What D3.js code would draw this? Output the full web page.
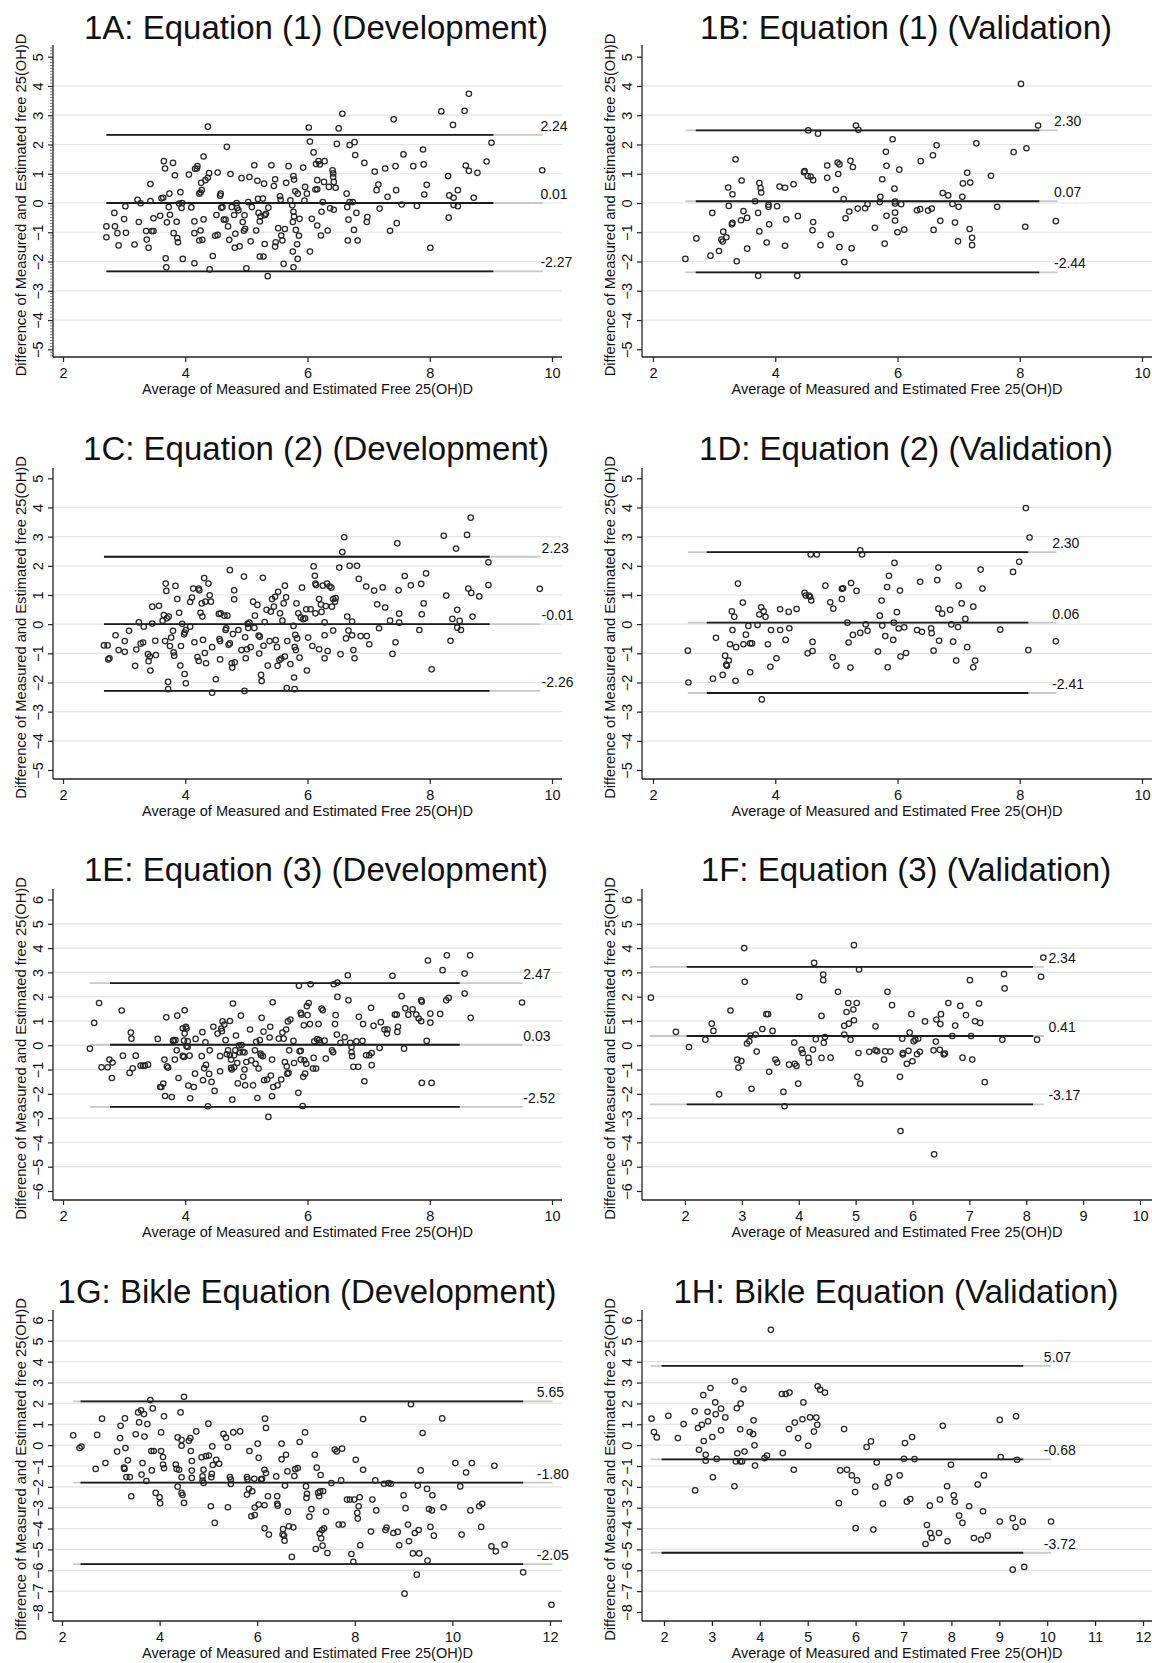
<!DOCTYPE html>
<html>
<head>
<meta charset="utf-8">
<script src="https://cdn.jsdelivr.net/npm/d3@7"></script>
<style>
  html, body { margin: 0; padding: 0; background: #fff; }
  svg { display: block; font-family: "Liberation Sans", Arial, Helvetica, sans-serif; }
</style>
</head>
<body>
<svg id="chart" width="1152" height="1663"></svg>
<script>
// ---- data ----
const panelTitles = [
  '1A: Equation (1) (Development)', '1B: Equation (1) (Validation)',
  '1C: Equation (2) (Development)', '1D: Equation (2) (Validation)',
  '1E: Equation (3) (Development)', '1F: Equation (3) (Validation)',
  '1G: Bikle Equation (Development)', '1H: Bikle Equation (Validation)'
];
const yAxisTitle = 'Difference of Measured and Estimated free 25(OH)D';
const xAxisTitle = 'Average of Measured and Estimated Free 25(OH)D';

const xTicksEven10 = [2, 4, 6, 8, 10];
const xTicksBy1to10 = [2, 3, 4, 5, 6, 7, 8, 9, 10];
const xTicksEven12 = [2, 4, 6, 8, 10, 12];
const xTicksBy1to12 = [2, 3, 4, 5, 6, 7, 8, 9, 10, 11, 12];
const yTicks5 = [-5, -4, -3, -2, -1, 0, 1, 2, 3, 4, 5];
const yTicks6 = [-6, -5, -4, -3, -2, -1, 0, 1, 2, 3, 4, 5, 6];
const yTicks8 = [-8, -7, -6, -5, -4, -3, -2, -1, 0, 1, 2, 3, 4, 5, 6];

// upper limit, mean, lower limit (line positions) per panel
const limitLines = [
  [2.33, 0.0, -2.34], [2.48, 0.06, -2.37],
  [2.31, 0.0, -2.29], [2.47, 0.05, -2.36],
  [2.56, 0.02, -2.54], [3.23, 0.38, -2.43],
  [2.10, -1.80, -5.70], [3.80, -0.68, -5.16]
];
// printed labels beside those lines
const limitText = [
  ['2.24', '0.01', '-2.27'], ['2.30', '0.07', '-2.44'],
  ['2.23', '-0.01', '-2.26'], ['2.30', '0.06', '-2.41'],
  ['2.47', '0.03', '-2.52'], ['2.34', '0.41', '-3.17'],
  ['5.65', '-1.80', '-2.05'], ['5.07', '-0.68', '-3.72']
];
// x extent of the lines: faint start, dark start, dark end, faint end
const lineSpan = [
  [2.71, 2.71, 9.04, 9.85], [2.53, 2.70, 8.32, 8.62],
  [2.67, 2.67, 8.98, 9.81], [2.57, 2.88, 8.14, 8.60],
  [2.44, 2.77, 8.49, 9.52], [1.38, 2.03, 8.12, 8.31],
  [2.23, 2.38, 11.45, 12.05], [1.72, 1.95, 9.50, 10.08]
];
const labelX = [9.81, 8.56, 9.83, 8.53, 9.53, 8.39, 11.73, 9.93];

const pts1A = [[2.71,-0.80],[2.71,-1.17],[2.84,-0.34],[2.85,-0.80],[2.89,-1.03],[2.91,-1.45],[3.00,-0.55],[3.02,-0.11],[3.03,-1.02],[3.17,-1.42],[3.22,0.11],[3.24,-0.65],[3.27,-0.01],[3.36,-0.96],[3.37,-1.25],[3.40,-1.53],[3.43,0.65],[3.43,0.07],[3.45,-0.96],[3.48,-0.96],[3.48,-0.52],[3.59,-0.44],[3.61,0.16],[3.64,0.18],[3.65,1.43],[3.67,1.18],[3.70,-0.66],[3.68,-1.89],[3.69,-2.20],[3.73,-0.14],[3.74,0.32],[3.75,-0.40],[3.80,1.37],[3.81,-1.03],[3.83,0.95],[3.86,-0.64],[3.87,-1.20],[3.88,-1.34],[3.90,-0.02],[3.92,0.37],[3.94,-0.17],[3.95,0.00],[3.96,-1.91],[4.06,0.97],[4.10,-0.15],[4.15,-0.63],[4.15,-1.03],[4.15,-2.06],[4.16,1.17],[4.19,1.18],[4.20,1.26],[4.23,0.32],[4.23,-1.28],[4.25,0.36],[4.25,-0.94],[4.26,0.69],[4.27,0.44],[4.28,-1.26],[4.30,1.59],[4.30,-0.56],[4.33,0.78],[4.37,0.86],[4.37,2.61],[4.39,1.02],[4.40,-2.27],[4.45,-1.81],[4.49,-1.12],[4.51,-0.41],[4.53,-1.09],[4.53,1.04],[4.57,0.25],[4.58,0.32],[4.59,-0.16],[4.61,-0.14],[4.63,-0.57],[4.66,-0.57],[4.68,1.92],[4.70,-0.80],[4.72,-1.26],[4.74,0.99],[4.76,-0.14],[4.80,-0.41],[4.81,-1.53],[4.82,-1.05],[4.84,0.00],[4.85,-0.17],[4.87,-0.25],[4.89,-1.48],[4.92,0.85],[4.94,-0.65],[4.96,-0.95],[4.97,-0.42],[4.98,-0.88],[5.00,-2.23],[5.03,0.03],[5.05,0.89],[5.07,-1.31],[5.09,-0.14],[5.13,1.29],[5.16,-0.94],[5.18,0.76],[5.19,0.14],[5.20,-0.34],[5.22,-0.63],[5.23,-0.46],[5.22,-1.83],[5.28,-1.83],[5.27,0.15],[5.29,0.66],[5.30,-1.40],[5.30,-0.42],[5.32,-0.37],[5.35,-2.50],[5.36,-0.16],[5.41,1.29],[5.45,0.58],[5.47,0.81],[5.47,-1.49],[5.48,-1.34],[5.52,-0.86],[5.55,0.23],[5.56,0.11],[5.57,-1.11],[5.59,-1.28],[5.61,-2.08],[5.63,-0.89],[5.65,0.69],[5.69,1.26],[5.72,0.09],[5.75,-0.08],[5.76,-0.65],[5.76,-1.66],[5.77,-2.20],[5.77,-0.30],[5.77,0.92],[5.78,0.80],[5.78,-0.46],[5.80,0.40],[5.81,-0.92],[5.83,-1.41],[5.84,-1.91],[5.84,0.32],[5.86,-1.12],[5.87,-0.54],[5.93,1.21],[5.95,0.08],[5.96,0.55],[5.99,0.32],[6.02,2.58],[6.04,2.10],[6.04,-1.66],[6.07,-0.54],[6.10,1.73],[6.13,0.46],[6.14,1.33],[6.16,0.47],[6.16,-0.77],[6.16,0.78],[6.18,1.43],[6.20,1.32],[6.22,-1.11],[6.23,-0.30],[6.25,0.03],[6.27,0.72],[6.28,1.43],[6.33,-0.94],[6.35,0.55],[6.37,-0.18],[6.41,1.12],[6.42,1.01],[6.42,0.89],[6.43,0.72],[6.43,-0.23],[6.46,0.52],[6.48,2.02],[6.51,2.55],[6.57,3.05],[6.64,0.32],[6.65,-0.14],[6.66,-1.28],[6.67,-0.57],[6.69,1.98],[6.69,0.03],[6.74,0.03],[6.76,-0.92],[6.77,2.08],[6.78,1.64],[6.80,-0.34],[6.82,-1.28],[6.93,1.37],[6.97,-0.65],[6.98,-0.48],[7.10,1.07],[7.13,0.44],[7.16,0.63],[7.18,-0.19],[7.27,1.18],[7.31,0.21],[7.35,-0.95],[7.41,2.86],[7.44,1.26],[7.45,0.44],[7.46,-0.69],[7.54,-0.05],[7.57,1.66],[7.73,1.26],[7.79,-0.10],[7.89,1.83],[7.90,1.32],[7.91,0.29],[7.95,0.62],[8.01,-1.53],[8.19,3.13],[8.30,0.92],[8.31,-0.50],[8.32,0.26],[8.38,2.67],[8.39,-0.07],[8.39,0.18],[8.46,0.44],[8.46,-0.11],[8.57,3.15],[8.59,1.28],[8.64,1.10],[8.64,3.73],[8.72,0.18],[8.78,1.03],[8.93,1.42],[9.01,2.06],[9.84,1.12]];

const pts1B = [[2.53,-1.91],[2.71,-1.21],[2.94,-1.80],[2.97,-0.34],[3.08,-1.64],[3.12,-1.25],[3.14,-1.32],[3.15,-0.98],[3.20,-1.17],[3.23,0.53],[3.24,-0.10],[3.29,-0.73],[3.30,-0.68],[3.30,0.30],[3.35,1.49],[3.37,-1.99],[3.44,-0.59],[3.45,0.77],[3.48,-0.28],[3.54,-0.51],[3.54,-1.56],[3.67,0.06],[3.72,-0.34],[3.72,-2.49],[3.74,0.68],[3.74,-0.97],[3.76,0.51],[3.77,0.36],[3.86,-1.35],[3.89,-0.06],[3.89,-0.13],[3.90,-0.73],[4.03,-0.11],[4.07,0.56],[4.16,0.52],[4.16,-1.46],[4.18,-0.56],[4.30,0.64],[4.37,-0.45],[4.36,-2.49],[4.47,1.05],[4.48,1.09],[4.53,0.92],[4.54,2.48],[4.58,0.90],[4.61,-0.93],[4.62,0.78],[4.62,-0.65],[4.70,2.37],[4.74,-1.44],[4.85,0.86],[4.85,1.28],[4.91,-1.08],[4.99,0.45],[5.02,1.38],[5.03,0.99],[5.05,-1.51],[5.05,1.32],[5.12,0.13],[5.13,-2.02],[5.15,-0.52],[5.21,-0.29],[5.23,1.44],[5.25,-1.55],[5.27,1.23],[5.32,2.65],[5.35,-0.19],[5.36,2.50],[5.47,-0.18],[5.51,-0.04],[5.63,-0.85],[5.71,0.03],[5.72,0.21],[5.75,0.81],[5.79,-1.39],[5.81,1.75],[5.82,1.27],[5.82,-0.44],[5.92,2.18],[5.95,0.49],[5.96,0.05],[5.96,-0.60],[5.96,-0.33],[5.96,-0.02],[6.00,-1.00],[6.03,1.14],[6.06,-0.04],[6.11,-0.91],[6.32,-0.25],[6.37,-0.21],[6.38,1.43],[6.50,-0.26],[6.56,-0.19],[6.58,1.63],[6.59,-0.92],[6.64,1.97],[6.70,-0.61],[6.74,0.34],[6.83,0.26],[6.90,-0.03],[6.94,-0.67],[6.99,-1.31],[7.00,-0.13],[7.06,0.21],[7.07,0.67],[7.14,1.03],[7.18,-0.89],[7.19,0.70],[7.22,-1.19],[7.22,-1.44],[7.29,2.04],[7.53,0.93],[7.63,-0.13],[7.90,1.74],[8.02,4.07],[8.09,-0.81],[8.11,1.87],[8.30,2.65],[8.59,-0.62]];

const pts1C = [[2.67,-0.73],[2.73,-0.73],[2.74,-1.21],[2.76,-1.17],[2.86,-0.38],[2.91,-0.89],[3.01,-0.95],[3.01,-0.58],[3.08,-0.23],[3.18,-1.43],[3.20,-0.87],[3.24,0.06],[3.27,-0.67],[3.31,-0.63],[3.32,-0.09],[3.39,-1.03],[3.40,-1.27],[3.42,-1.11],[3.43,-1.59],[3.46,0.60],[3.46,0.02],[3.51,-0.57],[3.52,-1.06],[3.57,0.63],[3.63,0.12],[3.65,0.31],[3.67,-0.58],[3.68,1.39],[3.69,1.14],[3.70,0.20],[3.72,-1.98],[3.72,-2.23],[3.73,0.26],[3.75,-0.75],[3.77,-0.46],[3.80,-0.23],[3.81,-0.97],[3.82,-1.08],[3.84,1.31],[3.87,0.86],[3.90,0.39],[3.92,-1.42],[3.93,-0.75],[3.95,0.01],[3.98,-0.35],[3.99,-0.29],[3.99,-1.71],[4.01,-2.03],[4.01,-0.20],[4.08,-0.09],[4.08,0.76],[4.11,0.91],[4.13,1.22],[4.15,-0.62],[4.20,-1.13],[4.22,-1.26],[4.22,1.22],[4.23,1.16],[4.25,0.39],[4.27,0.71],[4.28,0.26],[4.29,-0.54],[4.31,1.58],[4.32,-0.99],[4.33,0.77],[4.34,-1.34],[4.38,1.39],[4.40,0.99],[4.42,0.77],[4.44,-0.79],[4.44,-2.35],[4.50,-1.89],[4.55,0.35],[4.56,-0.51],[4.57,-1.21],[4.57,-0.58],[4.58,0.37],[4.64,0.29],[4.66,-0.20],[4.67,-0.14],[4.69,0.29],[4.71,-0.71],[4.73,1.85],[4.73,-0.66],[4.76,-1.34],[4.77,-1.49],[4.78,-0.34],[4.80,1.16],[4.80,0.85],[4.81,-1.31],[4.87,-0.20],[4.92,-0.89],[4.96,1.63],[4.97,-2.29],[4.98,-0.45],[4.99,-1.17],[5.01,-0.86],[5.02,0.01],[5.03,-0.13],[5.05,0.05],[5.07,-0.79],[5.11,0.77],[5.13,-0.13],[5.14,0.29],[5.18,0.66],[5.20,-0.39],[5.21,-1.01],[5.22,-0.43],[5.24,-1.74],[5.25,-1.95],[5.27,1.59],[5.28,-0.74],[5.30,0.07],[5.33,0.49],[5.35,-1.42],[5.38,-0.58],[5.40,0.43],[5.42,0.86],[5.45,0.60],[5.47,0.94],[5.48,-0.55],[5.50,-0.79],[5.51,-1.43],[5.52,1.11],[5.54,-1.23],[5.55,0.37],[5.57,-1.18],[5.59,0.12],[5.61,0.71],[5.63,1.32],[5.63,-1.11],[5.65,0.92],[5.66,-2.19],[5.67,-0.58],[5.72,-1.37],[5.77,-0.06],[5.78,-1.83],[5.79,-2.23],[5.79,-0.79],[5.80,-0.37],[5.81,-0.89],[5.82,0.71],[5.83,-0.49],[5.85,0.37],[5.87,-1.15],[5.89,0.23],[5.91,1.25],[5.93,0.17],[5.96,0.20],[5.98,0.51],[5.99,-1.59],[6.01,-0.46],[6.05,0.51],[6.08,-0.75],[6.10,1.98],[6.12,1.66],[6.13,0.37],[6.13,1.39],[6.14,1.34],[6.19,-0.86],[6.19,0.86],[6.22,0.67],[6.23,0.42],[6.25,1.32],[6.28,-0.38],[6.28,-1.17],[6.28,0.06],[6.30,0.62],[6.32,1.39],[6.33,-0.92],[6.36,1.30],[6.39,1.25],[6.40,0.60],[6.42,0.86],[6.42,-0.22],[6.45,0.77],[6.46,0.89],[6.52,1.94],[6.54,-1.03],[6.57,2.47],[6.60,2.98],[6.63,-0.49],[6.65,0.26],[6.67,-0.22],[6.69,2.00],[6.73,-0.38],[6.73,0.09],[6.75,-0.89],[6.77,-1.17],[6.81,2.00],[6.84,1.55],[6.87,-0.41],[6.96,1.29],[6.97,-0.41],[7.01,-0.69],[7.09,1.15],[7.14,0.68],[7.17,-0.14],[7.23,1.26],[7.27,0.57],[7.35,0.12],[7.39,-1.02],[7.44,-0.62],[7.47,2.77],[7.49,1.16],[7.50,0.36],[7.50,0.05],[7.59,1.65],[7.69,1.33],[7.83,-0.20],[7.86,1.38],[7.87,0.34],[7.90,0.71],[7.94,1.74],[8.03,-1.55],[8.23,3.03],[8.27,0.98],[8.34,-0.57],[8.37,0.18],[8.43,2.59],[8.61,3.06],[8.67,3.65],[8.45,0.49],[8.45,-0.12],[8.49,0.11],[8.51,-0.20],[8.63,1.22],[8.68,1.07],[8.70,0.26],[8.81,0.95],[8.96,2.12],[8.96,1.34],[9.80,1.21]];

const pts1D = [[2.57,-0.91],[2.58,-2.00],[2.98,-1.87],[3.03,-0.47],[3.14,-1.74],[3.18,-1.08],[3.20,-1.39],[3.21,-1.43],[3.24,-1.25],[3.26,-0.69],[3.29,0.44],[3.30,-0.20],[3.33,0.25],[3.35,-1.94],[3.36,-0.79],[3.39,1.39],[3.47,0.74],[3.48,-0.69],[3.52,-0.36],[3.56,-0.06],[3.59,-1.65],[3.59,-0.66],[3.62,-0.66],[3.71,-0.03],[3.74,0.33],[3.77,0.58],[3.78,-2.58],[3.81,0.44],[3.84,0.25],[3.88,-0.69],[3.92,-1.46],[3.93,-0.20],[4.02,-1.17],[4.08,-0.20],[4.08,0.51],[4.17,-0.54],[4.22,0.42],[4.23,-0.14],[4.35,0.52],[4.48,1.07],[4.50,0.98],[4.53,-1.00],[4.55,0.98],[4.57,0.94],[4.58,2.39],[4.59,0.81],[4.61,-0.61],[4.61,-0.92],[4.68,2.39],[4.82,1.32],[4.90,0.75],[4.94,-1.14],[4.95,0.53],[5.00,-1.43],[5.09,0.86],[5.09,1.21],[5.11,1.23],[5.18,0.05],[5.20,-0.63],[5.23,-1.49],[5.24,1.41],[5.27,-0.37],[5.33,1.14],[5.39,2.53],[5.39,-0.30],[5.42,2.39],[5.48,-0.01],[5.51,-0.23],[5.68,-0.94],[5.71,0.29],[5.74,0.81],[5.75,-0.05],[5.80,-0.41],[5.83,1.27],[5.84,-1.48],[5.86,1.66],[5.93,-0.54],[5.94,0.05],[5.95,2.10],[5.99,0.41],[6.02,-0.15],[6.04,1.15],[6.05,-1.11],[6.11,-0.11],[6.14,-0.99],[6.32,-0.20],[6.40,-0.26],[6.37,1.45],[6.55,-0.14],[6.56,-0.31],[6.59,-0.91],[6.65,1.51],[6.67,1.94],[6.67,0.53],[6.68,-0.57],[6.73,0.36],[6.86,0.49],[6.88,-0.01],[6.91,-0.60],[6.96,-1.25],[6.99,-0.10],[7.00,1.32],[7.05,0.71],[7.11,0.18],[7.14,-0.79],[7.24,-1.48],[7.27,-1.25],[7.24,0.60],[7.36,1.87],[7.39,1.22],[7.68,-0.19],[7.89,1.79],[7.99,2.14],[8.10,3.98],[8.14,-0.89],[8.16,2.97],[8.59,-0.59]];

const pts1E = [[2.44,-0.14],[2.51,0.92],[2.59,1.74],[2.63,-0.91],[2.73,-0.91],[2.76,-0.59],[2.80,-1.35],[2.81,-0.71],[2.96,1.43],[2.98,-0.43],[3.11,0.52],[3.12,0.27],[3.09,-1.14],[3.14,-0.95],[3.19,-0.43],[3.27,-0.84],[3.31,-0.84],[3.34,-0.84],[3.39,-0.80],[3.55,0.26],[3.59,-1.72],[3.61,-1.72],[3.64,-1.58],[3.66,-0.59],[3.67,-2.09],[3.69,1.15],[3.70,-0.87],[3.72,-0.92],[3.78,-2.13],[3.80,0.18],[3.81,0.21],[3.83,-0.59],[3.84,0.21],[3.86,-0.21],[3.87,1.22],[3.89,-1.35],[3.96,0.70],[3.96,-0.44],[3.98,-0.48],[3.98,0.19],[3.99,0.48],[3.99,1.44],[4.01,0.76],[4.02,0.69],[4.02,-0.03],[4.04,0.16],[4.04,-0.07],[4.05,-1.66],[4.07,-0.43],[4.08,-2.18],[4.14,-1.72],[4.16,-1.17],[4.17,0.26],[4.27,-0.45],[4.28,0.54],[4.29,-1.44],[4.31,-0.95],[4.33,0.12],[4.34,-0.81],[4.37,-2.51],[4.39,-1.18],[4.40,-0.21],[4.43,-1.51],[4.46,0.76],[4.48,-1.88],[4.53,0.48],[4.57,-1.07],[4.57,-0.45],[4.59,0.69],[4.60,0.58],[4.61,0.98],[4.64,0.85],[4.66,0.21],[4.68,-0.37],[4.70,-0.21],[4.73,1.00],[4.73,-0.41],[4.75,-0.59],[4.75,-0.93],[4.76,-1.00],[4.77,-2.24],[4.78,1.72],[4.80,-0.91],[4.80,-0.41],[4.82,-0.21],[4.83,0.40],[4.85,-0.73],[4.86,-1.57],[4.88,-0.01],[4.89,-0.30],[4.91,1.22],[4.92,0.01],[4.94,-0.27],[4.95,-1.30],[4.97,-1.00],[4.97,-0.30],[4.98,-1.65],[5.00,-0.69],[5.06,0.65],[5.08,-0.62],[5.11,-1.65],[5.14,-0.21],[5.15,-0.76],[5.16,0.14],[5.18,-2.17],[5.20,-0.96],[5.22,0.21],[5.23,-0.34],[5.24,-0.41],[5.25,1.13],[5.27,-0.45],[5.28,0.56],[5.29,-1.44],[5.34,-1.41],[5.36,-2.95],[5.38,0.32],[5.39,0.76],[5.40,-1.25],[5.42,-2.10],[5.42,-0.59],[5.43,1.77],[5.44,-1.72],[5.51,-1.65],[5.53,0.27],[5.57,-1.41],[5.59,0.52],[5.61,0.27],[5.63,-0.69],[5.65,0.65],[5.66,-0.87],[5.67,-1.17],[5.68,0.98],[5.69,-1.14],[5.70,-0.21],[5.72,1.06],[5.77,0.18],[5.78,-0.73],[5.85,-1.96],[5.86,2.45],[5.87,-0.25],[5.89,1.33],[5.89,-0.59],[5.89,-0.23],[5.90,1.26],[5.92,-2.50],[5.93,-1.30],[5.94,0.82],[5.95,-0.62],[5.96,-1.17],[5.98,-0.76],[5.99,1.61],[6.00,1.24],[6.02,1.74],[6.04,0.87],[6.05,2.51],[6.09,-0.96],[6.10,-0.52],[6.11,0.16],[6.14,-0.96],[6.16,0.25],[6.18,0.87],[6.19,0.21],[6.20,0.11],[6.23,1.51],[6.25,1.44],[6.28,0.19],[6.30,-0.55],[6.40,-0.21],[6.42,-0.29],[6.43,2.51],[6.45,0.87],[6.46,1.24],[6.48,0.44],[6.49,1.99],[6.49,2.58],[6.54,0.10],[6.61,0.33],[6.66,2.88],[6.67,1.85],[6.70,0.10],[6.72,-0.29],[6.72,-0.07],[6.73,-0.45],[6.75,-0.89],[6.80,0.16],[6.83,-0.89],[6.84,1.17],[6.90,0.18],[6.91,0.87],[6.93,-1.48],[6.96,-0.41],[7.01,-0.41],[7.04,1.54],[7.05,-0.82],[7.05,-0.32],[7.08,0.80],[7.18,-0.11],[7.20,0.95],[7.26,0.65],[7.30,0.48],[7.31,0.65],[7.39,2.86],[7.43,1.26],[7.46,1.26],[7.47,0.55],[7.48,0.76],[7.54,2.02],[7.58,-0.14],[7.60,1.52],[7.65,1.26],[7.72,1.48],[7.78,1.26],[7.82,1.10],[7.86,1.85],[7.87,1.79],[7.86,0.99],[7.87,-1.55],[7.95,0.18],[8.01,0.93],[8.03,-1.55],[8.01,1.30],[8.17,1.29],[8.21,3.09],[8.27,1.85],[8.31,1.95],[7.97,3.49],[8.28,3.70],[8.57,2.95],[8.57,2.13],[8.66,3.70],[8.67,1.13],[9.51,1.76]];

const pts1F = [[1.40,1.96],[1.84,0.55],[2.07,-0.07],[2.36,0.23],[2.47,0.89],[2.50,0.59],[2.60,-2.02],[2.80,1.43],[2.92,-0.59],[2.94,-0.92],[2.99,-0.65],[3.04,4.00],[3.05,2.61],[3.09,0.07],[3.13,0.16],[3.15,0.40],[3.17,-1.79],[3.24,0.44],[3.26,-0.26],[3.36,0.67],[3.43,1.28],[3.46,1.28],[3.48,-1.09],[3.54,0.59],[3.59,-0.59],[3.62,-0.71],[3.73,-1.92],[3.75,-2.51],[3.83,-0.80],[3.92,0.11],[3.93,-0.76],[3.96,-0.85],[3.99,-1.58],[4.01,1.99],[4.05,-0.18],[4.07,-0.32],[4.17,-0.52],[4.18,-0.71],[4.25,-0.18],[4.27,3.39],[4.30,0.25],[4.40,1.21],[4.40,-0.52],[4.43,2.68],[4.43,2.91],[4.44,0.10],[4.46,0.34],[4.56,-0.51],[4.69,2.20],[4.80,0.80],[4.80,0.44],[4.84,1.37],[4.87,1.74],[4.88,0.89],[4.91,0.23],[4.96,1.47],[4.97,1.03],[4.97,4.12],[5.02,1.74],[5.03,-1.30],[5.05,-0.32],[5.08,-1.58],[5.06,3.12],[5.24,-0.27],[5.35,0.78],[5.35,-0.21],[5.38,-0.25],[5.50,-0.59],[5.52,-0.25],[5.56,2.20],[5.61,-0.26],[5.64,1.65],[5.78,-1.30],[5.79,-3.53],[5.82,0.27],[5.83,-0.38],[5.83,-0.32],[5.90,-0.76],[5.93,-0.23],[5.95,0.52],[5.98,1.28],[6.00,-0.66],[6.02,0.16],[6.05,0.23],[6.08,-0.37],[6.10,0.27],[6.13,-0.27],[6.22,0.98],[6.37,-0.21],[6.38,-4.49],[6.41,0.15],[6.42,1.06],[6.48,-0.19],[6.49,0.87],[6.50,1.28],[6.55,-0.38],[6.57,-0.34],[6.63,1.74],[6.70,0.38],[6.75,0.81],[6.84,1.62],[6.88,-0.51],[6.94,1.24],[7.01,2.68],[7.03,0.38],[7.05,-0.59],[7.10,0.99],[7.17,1.72],[7.19,0.92],[7.27,-1.52],[7.58,0.23],[7.61,2.93],[7.62,2.34],[8.19,0.23],[8.26,2.82],[8.30,3.61]];

const pts1G = [[2.23,0.47],[2.36,-0.14],[2.40,-0.07],[2.69,-1.14],[2.72,0.49],[2.82,1.27],[2.89,-0.86],[3.13,-0.31],[3.19,0.34],[3.20,0.93],[3.29,1.28],[3.27,-1.08],[3.28,-1.14],[3.30,-0.14],[3.32,-1.53],[3.35,-0.73],[3.39,-1.53],[3.42,-2.45],[3.51,0.52],[3.56,1.57],[3.58,1.09],[3.62,1.67],[3.63,-1.41],[3.65,-0.86],[3.68,1.49],[3.69,0.41],[3.73,-1.72],[3.75,1.01],[3.81,2.16],[3.83,-0.28],[3.84,-1.21],[3.86,1.76],[3.88,-0.28],[3.92,-2.29],[4.00,-2.50],[4.01,-2.79],[4.03,-0.28],[4.03,0.61],[4.07,-0.57],[4.07,-0.93],[4.09,-1.11],[4.09,1.38],[4.33,-0.93],[4.35,-1.14],[4.37,0.37],[4.37,-1.99],[4.40,-1.18],[4.43,1.57],[4.45,-1.54],[4.45,-0.03],[4.45,0.25],[4.45,-2.29],[4.47,-2.39],[4.50,2.32],[4.50,-2.77],[4.60,0.21],[4.63,0.34],[4.64,-0.28],[4.66,-0.76],[4.66,-1.22],[4.66,-1.57],[4.75,0.66],[4.86,-0.58],[4.88,-1.50],[4.88,-1.70],[4.90,-1.18],[4.90,-1.81],[4.95,-0.53],[5.00,1.03],[5.01,-0.50],[5.05,-2.93],[5.06,-1.54],[5.07,-1.38],[5.08,-0.06],[5.09,-0.95],[5.13,-3.73],[5.16,-0.70],[5.22,-0.89],[5.31,0.54],[5.36,0.36],[5.40,-0.09],[5.40,-2.98],[5.44,-1.53],[5.46,-1.86],[5.46,-1.65],[5.51,0.61],[5.65,0.66],[5.79,-1.53],[5.79,-2.37],[5.80,-1.64],[5.83,-2.09],[5.84,-0.28],[5.88,-3.41],[5.90,-2.21],[5.94,-1.61],[5.95,-2.99],[5.95,-3.35],[6.01,0.07],[6.03,-0.61],[6.03,-2.85],[6.08,-1.65],[6.10,-1.61],[6.15,-1.18],[6.15,-2.88],[6.15,-3.99],[6.16,1.27],[6.18,0.82],[6.18,-1.34],[6.22,-2.45],[6.24,-4.29],[6.39,-1.50],[6.41,-2.45],[6.41,-2.81],[6.42,-2.90],[6.50,-0.68],[6.50,0.07],[6.52,-4.28],[6.53,-4.02],[6.55,-4.33],[6.56,-4.58],[6.57,-1.94],[6.59,-0.46],[6.62,-1.26],[6.63,-3.19],[6.65,-3.89],[6.71,-5.36],[6.74,-3.94],[6.76,-1.48],[6.78,-1.15],[6.83,-1.10],[6.87,0.15],[6.98,0.61],[7.00,-1.98],[7.01,-2.53],[7.02,-2.33],[7.07,-3.43],[7.11,-3.07],[7.18,-0.46],[7.20,-4.98],[7.22,-1.08],[7.25,-2.29],[7.27,-2.45],[7.28,-4.24],[7.29,-2.21],[7.30,-1.43],[7.31,-4.47],[7.33,-4.07],[7.34,-4.82],[7.35,-2.21],[7.37,-3.99],[7.41,-3.19],[7.44,-5.17],[7.52,-1.82],[7.59,-0.21],[7.63,-0.30],[7.67,-3.81],[7.72,-1.69],[7.75,-3.81],[7.74,-0.17],[7.84,-2.61],[7.90,-2.61],[7.93,-5.22],[7.97,-5.59],[7.99,-2.61],[8.02,-0.70],[8.05,-3.25],[8.06,-3.52],[8.08,-2.93],[8.10,-2.50],[8.11,-4.80],[8.17,-1.18],[8.17,1.25],[8.33,-4.14],[8.36,-2.61],[8.42,-1.69],[8.44,-3.13],[8.60,-1.85],[8.63,-4.07],[8.65,-3.95],[8.69,-1.82],[8.74,-1.85],[8.79,-4.21],[8.88,-4.16],[8.91,-4.80],[9.00,-2.40],[9.02,-7.12],[9.04,-3.02],[9.09,-3.81],[9.11,-4.61],[9.15,1.96],[9.19,-5.19],[9.23,-4.21],[9.27,-6.21],[9.29,-1.94],[9.31,-4.07],[9.32,-5.19],[9.35,-1.21],[9.39,0.58],[9.48,-2.10],[9.49,-5.54],[9.52,-3.06],[9.55,-3.92],[9.58,-3.13],[9.59,-2.40],[9.62,-4.34],[9.79,1.28],[9.82,-2.98],[10.06,-0.86],[10.16,-1.98],[10.19,-4.29],[10.28,-1.31],[10.37,-3.13],[10.40,-0.86],[10.55,-2.93],[10.59,-3.92],[10.61,-2.81],[10.80,-4.85],[10.86,-0.99],[10.89,-5.09],[11.07,-4.77],[11.45,-6.10],[12.03,-7.65]];

const pts1H = [[1.74,1.27],[1.79,0.63],[1.85,0.37],[2.09,1.41],[2.29,0.34],[2.41,1.01],[2.64,1.62],[2.65,-2.17],[2.71,0.82],[2.73,-0.22],[2.79,0.98],[2.82,2.40],[2.83,0.20],[2.87,-0.75],[2.87,-0.46],[2.91,1.60],[2.92,1.14],[2.97,2.74],[3.01,0.39],[3.02,-1.54],[3.07,2.05],[3.08,1.48],[3.10,-0.66],[3.19,0.71],[3.19,1.75],[3.28,1.33],[3.48,3.06],[3.47,-1.97],[3.50,-0.78],[3.52,1.77],[3.53,-0.39],[3.59,0.76],[3.59,-0.78],[3.60,1.99],[3.63,-0.78],[3.66,2.68],[3.68,-0.31],[3.79,0.63],[3.86,0.53],[3.87,1.19],[3.89,-0.01],[3.90,-0.98],[4.10,-0.62],[4.15,-0.50],[4.23,5.53],[4.48,-0.38],[4.46,2.45],[4.54,2.45],[4.62,2.52],[4.61,0.77],[4.71,-1.18],[4.73,1.08],[4.80,0.34],[4.89,1.24],[4.91,2.05],[5.01,-0.03],[5.05,1.33],[5.13,0.65],[5.18,1.32],[5.20,0.98],[5.21,2.82],[5.26,2.66],[5.36,2.52],[5.65,-2.78],[5.68,-1.21],[5.76,0.77],[5.82,-1.18],[5.92,-1.45],[5.99,-2.25],[6.03,-1.69],[6.00,-3.98],[6.23,-0.09],[6.32,0.18],[6.37,-4.05],[6.41,-1.99],[6.44,-0.83],[6.57,-2.80],[6.67,-1.82],[6.70,-1.53],[6.92,-1.45],[7.01,-0.65],[7.03,0.10],[7.07,-2.71],[7.14,-2.58],[7.18,0.39],[7.23,-0.67],[7.46,-4.74],[7.49,-3.83],[7.55,-2.90],[7.56,-4.21],[7.59,-4.45],[7.74,-4.21],[7.76,-2.61],[7.82,0.93],[7.91,-1.97],[7.92,-4.61],[7.99,-0.94],[8.05,-2.40],[8.07,-2.72],[8.16,-3.38],[8.23,-3.73],[8.37,-2.93],[8.47,-4.45],[8.55,-1.89],[8.62,-4.53],[8.66,-3.17],[8.68,-1.45],[8.76,-4.34],[9.01,-3.66],[9.01,1.21],[9.03,-0.57],[9.28,-5.97],[9.28,-3.50],[9.34,-3.93],[9.35,1.38],[9.37,-0.70],[9.49,-3.67],[9.52,-5.84],[10.08,-3.66]];

// ---- layout ----
const colBox = [{ left: 53, right: 562 }, { left: 642, right: 1152 }];
const rowBox = [
  { top: 45, bottom: 357, yt: yTicks5, yPx: [349.3, 56.7], titleY: 39 },
  { top: 468, bottom: 779, yt: yTicks5, yPx: [770, 478.3], titleY: 460 },
  { top: 889, bottom: 1200, yt: yTicks6, yPx: [1191, 899.5], titleY: 881 },
  { top: 1310, bottom: 1621, yt: yTicks8, yPx: [1612, 1320], titleY: 1303 }
];

const panels = [
  { col: 0, row: 0, pts: pts1A, xt: xTicksEven10, xPx: [63, 552], titleX: 316, minor: true },
  { col: 1, row: 0, pts: pts1B, xt: xTicksEven10, xPx: [653, 1142], titleX: 906 },
  { col: 0, row: 1, pts: pts1C, xt: xTicksEven10, xPx: [63, 552], titleX: 316 },
  { col: 1, row: 1, pts: pts1D, xt: xTicksEven10, xPx: [653, 1142], titleX: 906 },
  { col: 0, row: 2, pts: pts1E, xt: xTicksEven10, xPx: [63, 552], titleX: 316 },
  { col: 1, row: 2, pts: pts1F, xt: xTicksBy1to10, xPx: [685, 1140], titleX: 906 },
  { col: 0, row: 3, pts: pts1G, xt: xTicksEven12, xPx: [62, 550], titleX: 307 },
  { col: 1, row: 3, pts: pts1H, xt: xTicksBy1to12, xPx: [664, 1143], titleX: 896 }
];

const svg = d3.select('#chart');
const ink = '#111';
const axisInk = '#222';

function drawPanel(p, i) {
  const c = colBox[p.col];
  const r = rowBox[p.row];
  const x = d3.scaleLinear().domain([p.xt[0], p.xt[p.xt.length - 1]]).range(p.xPx);
  const y = d3.scaleLinear().domain([r.yt[0], r.yt[r.yt.length - 1]]).range(r.yPx);
  const g = svg.append('g');

  // gridlines at inner ticks
  g.selectAll('line.grid')
    .data(r.yt.slice(1, -1))
    .join('line')
    .attr('class', 'grid')
    .attr('x1', c.left + 1).attr('x2', c.right)
    .attr('y1', d => y(d)).attr('y2', d => y(d))
    .attr('stroke', '#e4e4e4').attr('stroke-width', 1.2);

  // limits of agreement + mean
  const span = lineSpan[i];
  limitLines[i].forEach(v => {
    g.append('line')
      .attr('x1', x(span[0])).attr('x2', x(span[3]))
      .attr('y1', y(v)).attr('y2', y(v))
      .attr('stroke', '#c8c8c8').attr('stroke-width', 1.8);
    g.append('line')
      .attr('x1', x(span[1])).attr('x2', x(span[2]))
      .attr('y1', y(v)).attr('y2', y(v))
      .attr('stroke', '#1a1a1a').attr('stroke-width', 1.8);
  });

  // points
  g.selectAll('circle')
    .data(p.pts)
    .join('circle')
    .attr('cx', d => x(d[0]))
    .attr('cy', d => y(d[1]))
    .attr('r', 2.7)
    .attr('fill', 'none')
    .attr('stroke', '#262626')
    .attr('stroke-width', 1.25);

  // line labels
  g.selectAll('text.lim')
    .data(limitText[i])
    .join('text')
    .attr('class', 'lim')
    .attr('x', x(labelX[i]))
    .attr('y', (d, k) => y(limitLines[i][k]) - 4)
    .attr('font-size', 14)
    .attr('fill', ink)
    .text(d => d);

  // axis lines
  g.append('line')
    .attr('x1', c.left).attr('x2', c.left)
    .attr('y1', r.top).attr('y2', r.bottom)
    .attr('stroke', axisInk).attr('stroke-width', 1.3);
  g.append('line')
    .attr('x1', c.left).attr('x2', c.right)
    .attr('y1', r.bottom).attr('y2', r.bottom)
    .attr('stroke', axisInk).attr('stroke-width', 1.3);

  // x axis ticks and labels
  const xAxis = g.append('g')
    .attr('transform', `translate(0,${r.bottom})`)
    .call(d3.axisBottom(x).tickValues(p.xt).tickSize(5).tickPadding(6).tickFormat(d3.format('d')));
  xAxis.select('.domain').remove();
  xAxis.selectAll('line').attr('stroke', axisInk).attr('stroke-width', 1.2);
  xAxis.selectAll('text').attr('font-size', 14.5).attr('fill', ink)
    .style('font-family', '"Liberation Sans", Arial, sans-serif');

  // y axis ticks and rotated labels
  const yAxis = g.append('g')
    .attr('transform', `translate(${c.left},0)`)
    .call(d3.axisLeft(y).tickValues(r.yt).tickSize(5).tickFormat(d3.format('d')));
  yAxis.select('.domain').remove();
  yAxis.selectAll('line').attr('stroke', axisInk).attr('stroke-width', 1.2);
  yAxis.selectAll('text')
    .attr('x', 0).attr('dy', 0)
    .attr('transform', 'translate(-10,0) rotate(-90)')
    .attr('text-anchor', 'middle')
    .attr('font-size', 14.5).attr('fill', ink)
    .style('font-family', '"Liberation Sans", Arial, sans-serif');

  if (p.minor) {
    const minor = d3.range(-52, 54).map(k => k / 10).filter(v => Math.abs(v - Math.round(v)) > 1e-6);
    g.selectAll('line.minor')
      .data(minor)
      .join('line')
      .attr('class', 'minor')
      .attr('x1', c.left - 3).attr('x2', c.left)
      .attr('y1', d => y(d)).attr('y2', d => y(d))
      .attr('stroke', '#555').attr('stroke-width', 0.8);
  }

  // titles
  g.append('text')
    .attr('x', p.titleX).attr('y', r.titleY)
    .attr('text-anchor', 'middle')
    .attr('font-size', 33)
    .attr('fill', ink)
    .text(panelTitles[i]);

  g.append('text')
    .attr('x', (c.left + c.right) / 2).attr('y', r.bottom + 37)
    .attr('text-anchor', 'middle')
    .attr('font-size', 14.5)
    .attr('fill', ink)
    .text(xAxisTitle);

  const yMid = (r.top + r.bottom) / 2 + 4;
  g.append('text')
    .attr('transform', `translate(${c.left - 27},${yMid}) rotate(-90)`)
    .attr('text-anchor', 'middle')
    .attr('font-size', 14.7)
    .attr('fill', ink)
    .text(yAxisTitle);
}

panels.forEach(drawPanel);
</script>
</body>
</html>
